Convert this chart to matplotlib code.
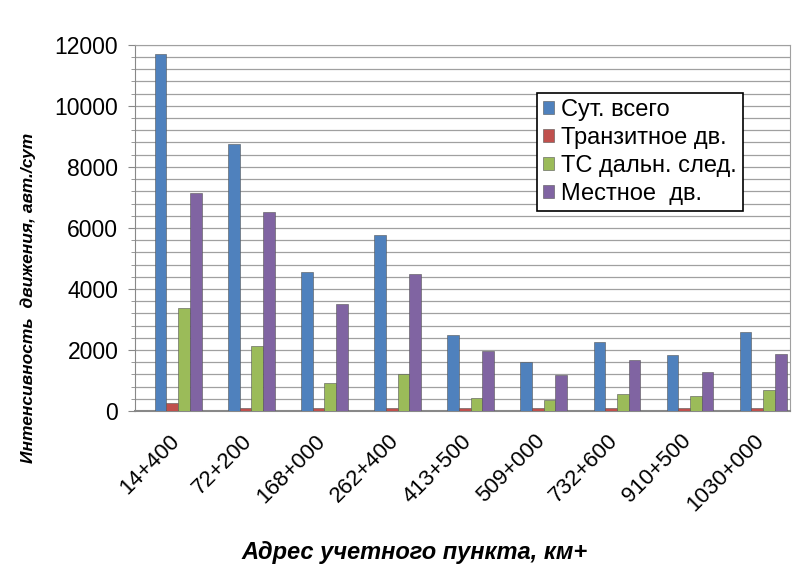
import numpy as np
import matplotlib.pyplot as plt
from matplotlib.ticker import MultipleLocator

plt.rcParams['font.family'] = ['Liberation Sans', 'DejaVu Sans']

# Данные
points = ['14+400', '72+200', '168+000', '262+400', '413+500',
          '509+000', '732+600', '910+500', '1030+000']
total = [11700, 8750, 4540, 5760, 2500, 1610, 2270, 1840, 2600]
transit = [250, 110, 110, 110, 100, 90, 100, 100, 110]
long_dist = [3390, 2140, 920, 1220, 430, 360, 560, 490, 690]
local = [7140, 6510, 3520, 4500, 1970, 1180, 1680, 1280, 1870]

series = [
    ('Сут. всего', total, '#4F81BD'),
    ('Транзитное дв.', transit, '#C0504D'),
    ('ТС дальн. след.', long_dist, '#9BBB59'),
    ('Местное  дв.', local, '#8064A2'),
]

fig = plt.figure(figsize=(7.99, 5.65), dpi=100)
ax = fig.add_axes([0.169, 0.2726, 0.820, 0.648])

x = np.arange(len(points))
w = 0.16
for i, (name, vals, color) in enumerate(series):
    pos = x + (i - 1.5) * w
    ax.bar(pos, vals, width=w, color=color, edgecolor='#555555',
           linewidth=0.4, label=name, zorder=3)

ax.set_xlim(-0.59, 8.37)
ax.set_ylim(0, 12000)
ax.yaxis.set_major_locator(MultipleLocator(2000))
ax.yaxis.set_minor_locator(MultipleLocator(400))
ax.grid(axis='y', which='both', color='#a0a0a0', linewidth=0.9, zorder=0)
ax.tick_params(axis='y', which='major', labelsize=16.5, length=5,
               color='#888888', pad=7)
ax.tick_params(axis='y', which='minor', length=3, color='#888888')
ax.tick_params(axis='x', length=0, pad=14)

ax.set_xticks(x - 0.13)
ax.set_xticklabels(points, rotation=45, ha='right', rotation_mode='anchor',
                   fontsize=16)

for s in ['top', 'right']:
    ax.spines[s].set_color('#a0a0a0')
ax.spines['left'].set_color('#888888')
ax.spines['bottom'].set_color('#888888')
ax.spines['bottom'].set_linewidth(1.5)

fig.text(28 / 799, 1 - 298 / 565, 'Интенсивность  движения, авт./сут',
         rotation=90, ha='center', va='center', fontsize=12.5,
         fontstyle='italic', fontweight='bold')
fig.text(415 / 799, 1 - 552 / 565, 'Адрес учетного пункта, км+',
         ha='center', va='center',
         fontsize=17, fontstyle='italic', fontweight='bold')

leg = ax.legend(loc='upper left', bbox_to_anchor=(0.614, 0.868), fontsize=17,
                frameon=True, fancybox=False, edgecolor='black',
                handlelength=0.45, handleheight=0.45, handletextpad=0.3,
                borderpad=0.25, labelspacing=0.25, borderaxespad=0)
leg.get_frame().set_linewidth(1.2)
leg.get_frame().set_alpha(1)

fig.savefig('out.png', dpi=100)
